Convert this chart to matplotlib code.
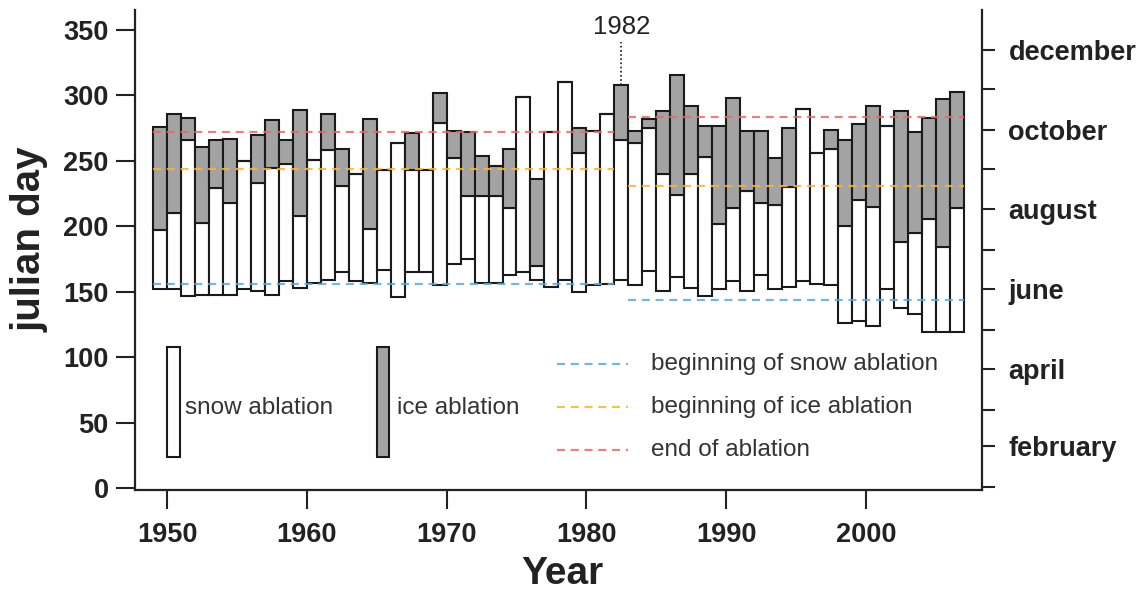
import matplotlib
matplotlib.use("Agg")
import matplotlib.pyplot as plt
from matplotlib.patches import Rectangle

plt.rcParams['font.family'] = ['Liberation Sans', 'DejaVu Sans']

# Ablation season per year (julian days)
years = list(range(1949, 2007))
snow_start = [152, 152, 147, 148, 148, 148, 152, 151, 148, 158,
              153, 157, 159, 165, 158, 157, 167, 146, 165, 165,
              155, 171, 175, 157, 157, 163, 165, 159, 154, 159,
              150, 155, 156, 159, 155, 166, 151, 161, 153, 147,
              152, 158, 151, 163, 152, 154, 158, 156, 155, 126,
              128, 124, 152, 138, 133, 119, 119, 119]
ice_start = [197, 210, 266, 203, 229, 218, 250, 233, 245, 248,
             208, 251, 258, 231, 240, 198, 243, 264, 243, 243,
             279, 252, 223, 223, 223, 214, 299, 170, 272, 310,
             256, 273, 286, 266, 264, 275, 240, 224, 240, 253,
             202, 214, 227, 218, 216, 230, 290, 256, 259, 200,
             220, 215, 277, 188, 195, 206, 184, 214]
abl_end = [276, 286, 283, 261, 266, 267, 250, 270, 281, 266,
           289, 251, 286, 259, 240, 282, 243, 264, 271, 243,
           302, 273, 272, 254, 246, 259, 299, 236, 272, 310,
           275, 273, 286, 308, 273, 282, 288, 316, 292, 277,
           277, 298, 273, 273, 252, 275, 290, 256, 274, 266,
           278, 292, 277, 288, 272, 283, 297, 303]

# Period means (dashed lines): before / after 1982
periods = [(1949, 1982), (1983, 2007)]
mean_snow = [156, 143.5]
mean_ice = [244, 230.5]
mean_end = [272.5, 283.5]

month_days = [1, 32, 60, 91, 121, 152, 182, 213, 244, 274, 305, 335]
month_names = ['', 'february', '', 'april', '', 'june', '', 'august',
               '', 'october', '', 'december']

GREY = '#a3a3a3'
EDGE = '#1a1a1a'
C_SNOW = '#62a6dc'
C_ICE = '#f2b73a'
C_END = '#e5696c'

fig = plt.figure(figsize=(11.45, 5.92), dpi=100)
ax = fig.add_axes([135 / 1145, 102 / 592, 847 / 1145, 480 / 592])

white_h = [i - s for s, i in zip(snow_start, ice_start)]
grey_h = [e - i for i, e in zip(ice_start, abl_end)]
ax.bar(years, white_h, bottom=snow_start, width=1, align='edge',
       color='white', edgecolor=EDGE, linewidth=1.5, zorder=2)
ax.bar(years, grey_h, bottom=ice_start, width=1, align='edge',
       color=GREY, edgecolor=EDGE, linewidth=1.5, zorder=2)

for (x0, x1), s, i, e in zip(periods, mean_snow, mean_ice, mean_end):
    for val, col in ((s, C_SNOW), (i, C_ICE), (e, C_END)):
        ax.plot([x0, x1], [val, val], color=col, lw=1.6,
                dashes=(3.6, 2.6), alpha=0.85, zorder=3)

# 1982 marker
k = years.index(1982)
ax.plot([years[k] + 0.5] * 2, [abl_end[k], 341], color=EDGE,
        lw=1.2, ls=(0, (1, 1.5)), zorder=3)
ax.text(years[k] + 0.5, 352, '1982', ha='center', va='center',
        fontsize=18.5, color='#222222')

# legend drawn by hand
ax.add_patch(Rectangle((1950.0, 24), 0.9, 84, facecolor='white',
                       edgecolor=EDGE, lw=1.5, zorder=2))
ax.add_patch(Rectangle((1965.0, 24), 0.9, 84, facecolor=GREY,
                       edgecolor=EDGE, lw=1.5, zorder=2))
ax.text(1951.3, 61, 'snow ablation', fontsize=17.5, va='center',
        color='#333333')
ax.text(1966.45, 61, 'ice ablation', fontsize=17.5, va='center',
        color='#333333')
for yv, col, lab in ((94.7, C_SNOW, 'beginning of snow ablation'),
                     (61.8, C_ICE, 'beginning of ice ablation'),
                     (29.0, C_END, 'end of ablation')):
    ax.plot([1977.9, 1983.0], [yv, yv], color=col, lw=1.6,
            dashes=(3.6, 2.6), alpha=0.85)
    ax.text(1984.6, yv, lab, fontsize=17.5, va='center', color='#333333')

ax.set_xlim(1947.71, 2008.3)
ax.set_ylim(-1.3, 365.3)
ax.set_xticks(range(1950, 2001, 10))
ax.set_yticks(range(0, 351, 50))
ax.tick_params(axis='both', direction='out', length=14, width=1.5,
               labelsize=19.5, colors='#222222')
ax.tick_params(axis='x', pad=9)
ax.tick_params(axis='y', pad=5)
for lab in ax.get_xticklabels() + ax.get_yticklabels():
    lab.set_fontweight('bold')
ax.spines['top'].set_visible(False)
ax.spines['right'].set_visible(False)
for sp in ('left', 'bottom'):
    ax.spines[sp].set_linewidth(1.6)
    ax.spines[sp].set_color('#222222')

ax2 = ax.twinx()
ax2.set_ylim(ax.get_ylim())
ax2.set_yticks(month_days)
ax2.set_yticklabels(month_names, fontsize=19.5, fontweight='bold')
ax2.tick_params(axis='y', direction='out', length=9, width=1.5, pad=10,
                colors='#222222')
for sp in ('top', 'left', 'bottom'):
    ax2.spines[sp].set_visible(False)
ax2.spines['right'].set_linewidth(1.6)
ax2.spines['right'].set_color('#222222')

fig.text(30 / 1145, 1 - 239 / 592, 'julian day', rotation=90,
         ha='center', va='center', fontsize=29, fontweight='bold',
         color='#222222')
fig.text(562 / 1145, 1 - 574 / 592, 'Year', ha='center', va='center',
         fontsize=28, fontweight='bold', color='#222222')

fig.savefig('out.png', dpi=100)
